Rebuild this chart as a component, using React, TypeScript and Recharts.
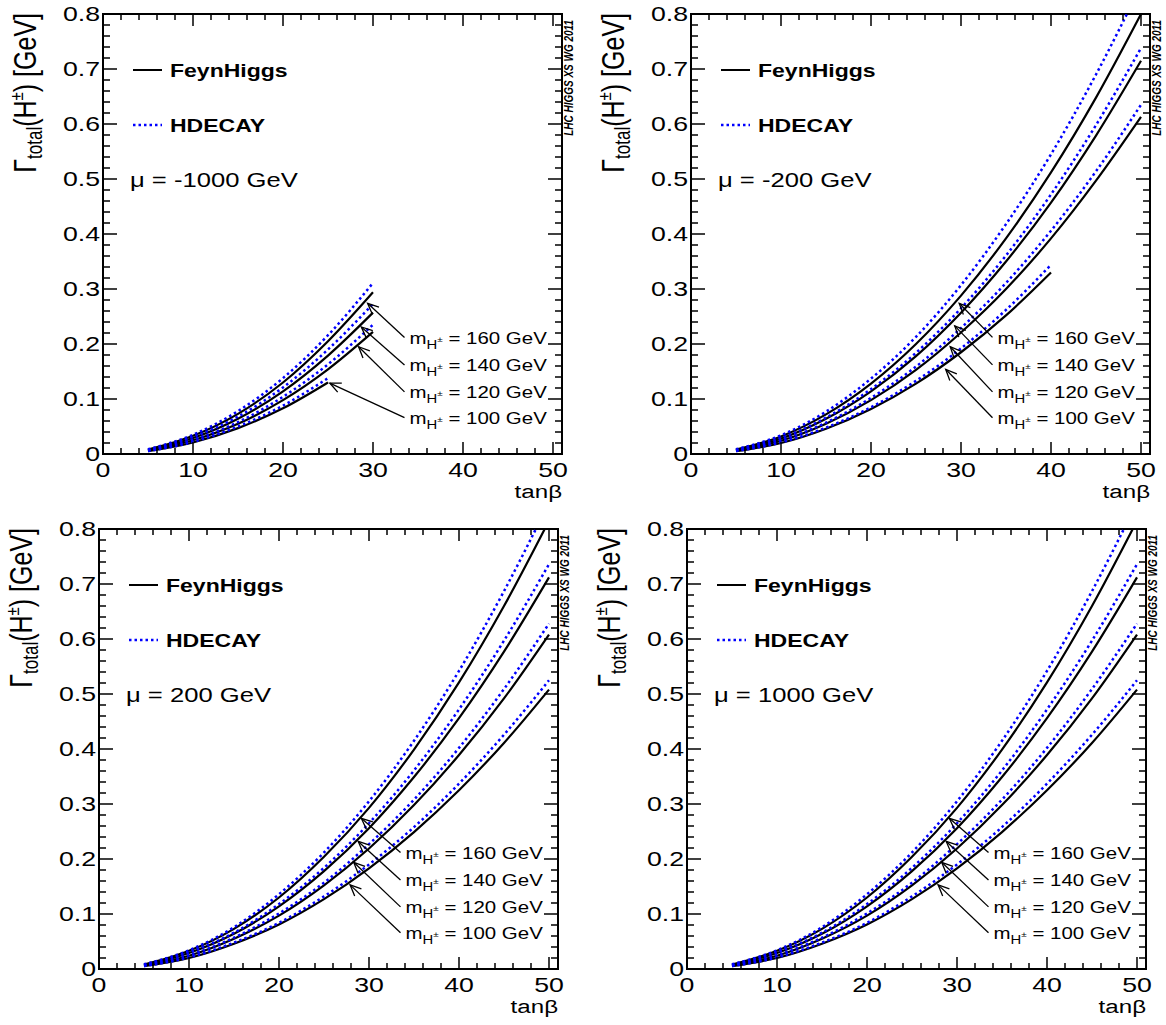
import React from "react"
import { LineChart, Line, XAxis, YAxis, ReferenceArea, ReferenceLine, Legend } from "recharts"

const tanBeta = [5, 10, 15, 20, 25, 30, 35, 40, 45, 50]
const masses = [160, 140, 120, 100]

// mu = -1000 GeV
const m1000Fh160 = [0.008, 0.033, 0.073, 0.13, 0.205, 0.294]
const m1000Hd160 = [0.0085, 0.035, 0.078, 0.138, 0.216, 0.311]
const m1000Fh140 = [0.007, 0.029, 0.064, 0.114, 0.179, 0.257]
const m1000Hd140 = [0.0074, 0.031, 0.068, 0.121, 0.19, 0.273]
const m1000Fh120 = [0.006, 0.025, 0.055, 0.098, 0.154, 0.222]
const m1000Hd120 = [0.0064, 0.026, 0.058, 0.104, 0.163, 0.235]
const m1000Fh100 = [0.005, 0.021, 0.047, 0.083, 0.13]
const m1000Hd100 = [0.0053, 0.022, 0.05, 0.088, 0.138]

// mu = -200 GeV
const m200Fh160 = [0.008, 0.032, 0.072, 0.128, 0.2, 0.288, 0.392, 0.512, 0.648, 0.8]
const m200Hd160 = [0.0085, 0.034, 0.077, 0.137, 0.213, 0.307, 0.418, 0.545, 0.69, 0.852]
const m200Fh140 = [0.007, 0.028, 0.064, 0.114, 0.178, 0.257, 0.35, 0.457, 0.579, 0.715]
const m200Hd140 = [0.0073, 0.029, 0.066, 0.118, 0.184, 0.265, 0.361, 0.472, 0.598, 0.738]
const m200Fh120 = [0.006, 0.024, 0.055, 0.098, 0.153, 0.221, 0.3, 0.392, 0.497, 0.613]
const m200Hd120 = [0.0063, 0.025, 0.057, 0.102, 0.159, 0.229, 0.311, 0.406, 0.514, 0.635]
const m200Fh100 = [0.005, 0.02, 0.046, 0.082, 0.128, 0.185, 0.252, 0.33]
const m200Hd100 = [0.0053, 0.021, 0.048, 0.085, 0.133, 0.192, 0.262, 0.344]

// mu = +200 GeV and +1000 GeV (curves are the same within drawing precision)
const p200Fh160 = [0.008, 0.033, 0.073, 0.13, 0.204, 0.293, 0.399, 0.521, 0.66, 0.815]
const p200Hd160 = [0.0085, 0.034, 0.076, 0.136, 0.212, 0.305, 0.415, 0.542, 0.687, 0.848]
const p200Fh140 = [0.007, 0.029, 0.064, 0.114, 0.178, 0.256, 0.349, 0.456, 0.577, 0.712]
const p200Hd140 = [0.0073, 0.03, 0.066, 0.118, 0.184, 0.265, 0.361, 0.472, 0.597, 0.736]
const p200Fh120 = [0.006, 0.024, 0.055, 0.097, 0.152, 0.219, 0.298, 0.389, 0.492, 0.608]
const p200Hd120 = [0.0062, 0.025, 0.057, 0.101, 0.157, 0.227, 0.308, 0.402, 0.509, 0.628]
const p200Fh100 = [0.005, 0.02, 0.046, 0.081, 0.127, 0.183, 0.249, 0.325, 0.411, 0.508]
const p200Hd100 = [0.0052, 0.021, 0.048, 0.084, 0.132, 0.19, 0.258, 0.337, 0.426, 0.525]

// arrow annotations: tail (label side) and tip, in (tanb, Gamma)
const arrowTailT = 33.5
const arrowTailG = [0.212, 0.162, 0.113, 0.066]
const tipsM1000 = [[29.4, 0.274], [28.7, 0.231], [28.4, 0.195], [25.2, 0.129]]
const tipsM200 = [[29.8, 0.274], [29.3, 0.233], [28.8, 0.195], [28.3, 0.154]]
const tipsP200 = [[29.15, 0.274], [28.8, 0.232], [28.3, 0.194], [27.9, 0.153]]

const xMajor = [0, 10, 20, 30, 40, 50]
const yMajor = [0, 0.1, 0.2, 0.3, 0.4, 0.5, 0.6, 0.7, 0.8]
const xTicks = Array.from({ length: 26 }, (_, i) => i * 2)
const yTicks = Array.from({ length: 41 }, (_, i) => Math.round(i * 2) / 100)

const FONT = '"Liberation Sans", Arial, Helvetica, sans-serif'
const SX = 1.27
const PLOT_W = 459
const PLOT_H = 440
const CHART_W = 590
const CHART_H = 512
const Y_AXIS_W = 60
const X_AXIS_H = 30
const MARGIN = { top: 14, right: CHART_W - 103 - PLOT_W, left: 103 - Y_AXIS_W, bottom: CHART_H - 14 - PLOT_H - X_AXIS_H }

const isMajor = (v: number, list: number[]) => list.some((m) => Math.abs(m - v) < 1e-6)

function XTick(props: any) {
  const { x, y, payload } = props
  const v = payload.value
  const major = isMajor(v, xMajor)
  const len = major ? 12 : 6
  return (
    <g>
      <line x1={x} x2={x} y1={y} y2={y - len} stroke="#000" strokeWidth={1.5} />
      <line x1={x} x2={x} y1={y - PLOT_H} y2={y - PLOT_H + len} stroke="#000" strokeWidth={1.5} />
      {major && (
        <text transform={`translate(${x},${y + 23}) scale(${SX},1)`} textAnchor="middle" fontSize={21} fontFamily={FONT} fill="#000">
          {v}
        </text>
      )}
    </g>
  )
}

function YTick(props: any) {
  const { x, y, payload } = props
  const v = payload.value
  const major = isMajor(v, yMajor)
  const len = major ? 14 : 7
  return (
    <g>
      <line x1={x} x2={x + len} y1={y} y2={y} stroke="#000" strokeWidth={1.5} />
      <line x1={x + PLOT_W} x2={x + PLOT_W - len} y1={y} y2={y} stroke="#000" strokeWidth={1.5} />
      {major && (
        <text transform={`translate(${x - 3},${y + 7}) scale(${SX},1)`} textAnchor="end" fontSize={21} fontFamily={FONT} fill="#000">
          {v === 0 ? "0" : v.toFixed(1)}
        </text>
      )}
    </g>
  )
}

function XTitle(props: any) {
  const vb = props.viewBox
  return (
    <text transform={`translate(${vb.x + vb.width},${vb.y + 44}) scale(${SX},1)`} textAnchor="end" fontSize={19} fontFamily={FONT} fill="#000">
      tanβ
    </text>
  )
}

function YTitle(props: any) {
  const vb = props.viewBox
  const right = vb.x + vb.width + PLOT_W
  return (
    <g>
      <text transform={`translate(${vb.x - 7},${vb.y - 1}) scale(${SX},1) rotate(-90)`} textAnchor="end" fontSize={25} fontFamily={FONT} fill="#000">
        <tspan>Γ</tspan>
        <tspan fontSize={17} dy={5}>total</tspan>
        <tspan dy={-5}>(H</tspan>
        <tspan fontSize={15} dy={-10}>±</tspan>
        <tspan dy={10} style={{ whiteSpace: "pre" }}>{") [GeV]"}</tspan>
      </text>
      <text transform={`translate(${right + 11},${vb.y + 6}) scale(1.2,1) rotate(-90)`} textAnchor="end" fontSize={10} fontWeight="bold" fontStyle="italic" fontFamily={FONT} fill="#000">
        LHC HIGGS XS WG 2011
      </text>
    </g>
  )
}

const arrowShape = (mass: number) => (p: any) => {
  const { x1, y1, x2, y2 } = p
  const a = Math.atan2(y2 - y1, x2 - x1)
  const L = 12
  const w = 0.42
  const ax = x2 - L * Math.cos(a - w)
  const ay = y2 - L * Math.sin(a - w)
  const bx = x2 - L * Math.cos(a + w)
  const by = y2 - L * Math.sin(a + w)
  return (
    <g>
      <line x1={x1} y1={y1} x2={x2} y2={y2} stroke="#000" strokeWidth={1.3} />
      <polyline points={`${ax},${ay} ${x2},${y2} ${bx},${by}`} fill="none" stroke="#000" strokeWidth={1.3} />
      <text transform={`translate(${x1 + 5},${y1 + 6.5}) scale(1.24,1)`} fontSize={16.5} fontFamily={FONT} fill="#000" style={{ whiteSpace: "pre" }}>
        <tspan>m</tspan>
        <tspan fontSize={12} dy={5}>H</tspan>
        <tspan fontSize={8} dy={-7}>±</tspan>
        <tspan dy={2}>{` = ${mass} GeV`}</tspan>
      </text>
    </g>
  )
}

function LegendBox(props: any) {
  const { payload, mu } = props
  const rows = (payload ?? [])
    .filter((e: any) => e.value === "FeynHiggs" || e.value === "HDECAY")
    .sort((a: any) => (a.value === "FeynHiggs" ? -1 : 1))
  return (
    <svg width={320} height={200} style={{ display: "block", overflow: "visible" }}>
      {rows.map((e: any, i: number) => {
        const cy = 70 + i * 55
        const dotted = e.value === "HDECAY"
        return (
          <g key={e.value}>
            <line x1={133} x2={162} y1={cy} y2={cy} stroke={e.color} strokeWidth={dotted ? 2.5 : 2} strokeDasharray={dotted ? "2.5 3" : undefined} />
            <text transform={`translate(170,${cy + 7}) scale(1.28,1)`} fontSize={18} fontWeight="bold" fontFamily={FONT} fill="#000">
              {e.value}
            </text>
          </g>
        )
      })}
      <text transform="translate(130,187) scale(1.22,1)" fontSize={21} fontFamily={FONT} fill="#000" style={{ whiteSpace: "pre" }}>
        {`μ = ${mu} GeV`}
      </text>
    </svg>
  )
}

type PanelProps = {
  mu: string
  left: number
  top: number
  fh: number[][]
  hd: number[][]
  tips: number[][]
}

function Panel({ mu, left, top, fh, hd, tips }: PanelProps) {
  const data = tanBeta.map((t, i) => {
    const row: Record<string, number | null> = { t }
    masses.forEach((m, k) => {
      row[`fh${m}`] = fh[k][i] ?? null
      row[`hd${m}`] = hd[k][i] ?? null
    })
    return row
  })

  return (
    <div style={{ position: "absolute", left, top }}>
      <LineChart width={CHART_W} height={CHART_H} data={data} margin={MARGIN}>
        <XAxis
          dataKey="t"
          type="number"
          domain={[0, 51]}
          ticks={xTicks}
          interval={0}
          height={X_AXIS_H}
          tick={(p: any) => <XTick {...p} />}
          tickSize={0}
          tickMargin={0}
          tickLine={false}
          axisLine={false}
          allowDataOverflow
          label={{ content: (p: any) => <XTitle {...p} /> }}
        />
        <YAxis
          type="number"
          domain={[0, 0.8]}
          ticks={yTicks}
          interval={0}
          width={Y_AXIS_W}
          tick={(p: any) => <YTick {...p} />}
          tickSize={0}
          tickMargin={0}
          tickLine={false}
          axisLine={false}
          allowDataOverflow
          label={{ content: (p: any) => <YTitle {...p} /> }}
        />
        <Legend
          layout="vertical"
          align="center"
          verticalAlign="middle"
          wrapperStyle={{ left: 0, top: 0, width: 320, height: 200 }}
          content={(p: any) => <LegendBox {...p} mu={mu} />}
        />
        {masses.map((m, k) => (
          <Line
            key={`fh${m}`}
            dataKey={`fh${m}`}
            name={k === 0 ? "FeynHiggs" : `FeynHiggs ${m}`}
            legendType={k === 0 ? "line" : "none"}
            type="monotone"
            stroke="#000"
            strokeWidth={2.2}
            dot={false}
            activeDot={false}
            isAnimationActive={false}
          />
        ))}
        {masses.map((m, k) => (
          <Line
            key={`hd${m}`}
            dataKey={`hd${m}`}
            name={k === 0 ? "HDECAY" : `HDECAY ${m}`}
            legendType={k === 0 ? "line" : "none"}
            type="monotone"
            stroke="#0000ff"
            strokeWidth={2.5}
            strokeDasharray="2.5 3"
            dot={false}
            activeDot={false}
            isAnimationActive={false}
          />
        ))}
        {masses.map((m, k) => (
          <ReferenceLine
            key={`arrow${m}`}
            segment={[
              { x: arrowTailT, y: arrowTailG[k] },
              { x: tips[k][0], y: tips[k][1] },
            ]}
            ifOverflow="visible"
            shape={arrowShape(m)}
          />
        ))}
        <ReferenceArea x1={0} x2={51} y1={0} y2={0.8} fill="none" stroke="#000" strokeWidth={2} ifOverflow="visible" />
      </LineChart>
    </div>
  )
}

export default function App() {
  return (
    <div style={{ position: "absolute", left: 0, top: 0, width: 1166, height: 1025, overflow: "hidden", background: "#fff" }}>
      <Panel
        mu="-1000"
        left={0}
        top={0}
        fh={[m1000Fh160, m1000Fh140, m1000Fh120, m1000Fh100]}
        hd={[m1000Hd160, m1000Hd140, m1000Hd120, m1000Hd100]}
        tips={tipsM1000}
      />
      <Panel
        mu="-200"
        left={588}
        top={0}
        fh={[m200Fh160, m200Fh140, m200Fh120, m200Fh100]}
        hd={[m200Hd160, m200Hd140, m200Hd120, m200Hd100]}
        tips={tipsM200}
      />
      <Panel
        mu="200"
        left={-3.7}
        top={514.5}
        fh={[p200Fh160, p200Fh140, p200Fh120, p200Fh100]}
        hd={[p200Hd160, p200Hd140, p200Hd120, p200Hd100]}
        tips={tipsP200}
      />
      <Panel
        mu="1000"
        left={584.3}
        top={514.5}
        fh={[p200Fh160, p200Fh140, p200Fh120, p200Fh100]}
        hd={[p200Hd160, p200Hd140, p200Hd120, p200Hd100]}
        tips={tipsP200}
      />
    </div>
  )
}
